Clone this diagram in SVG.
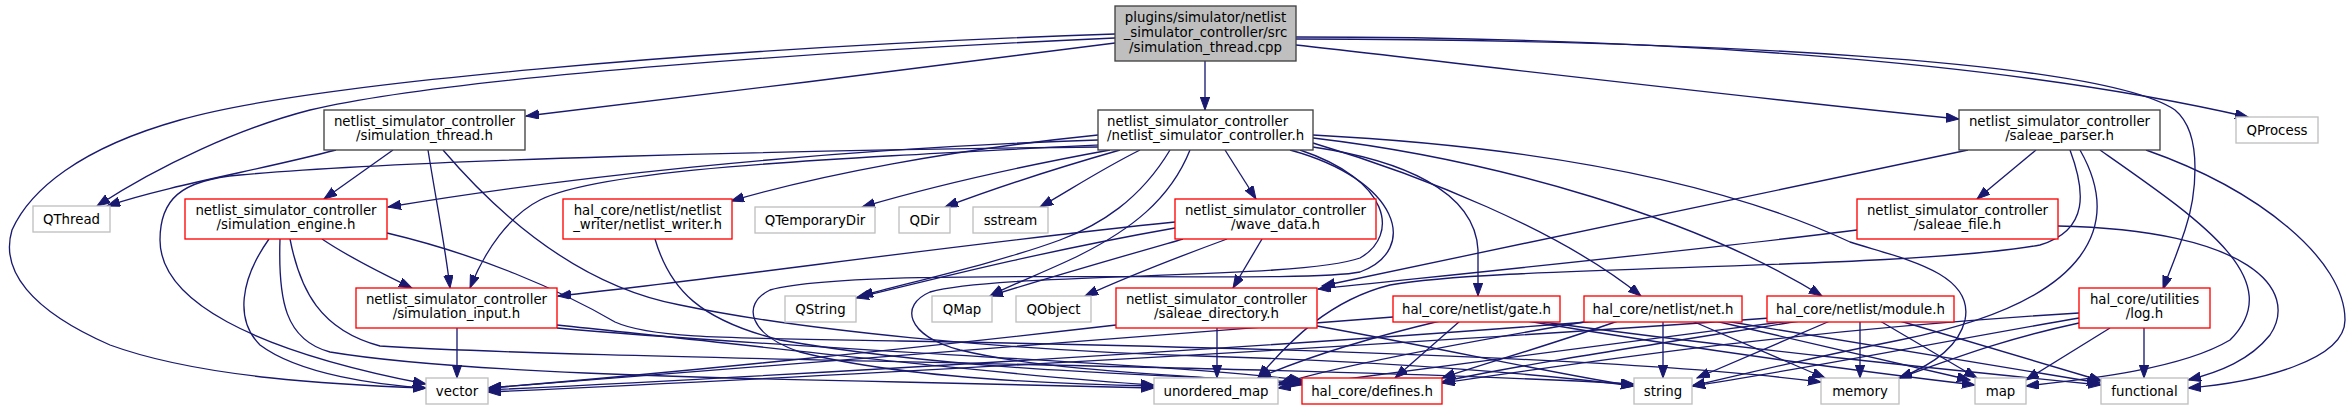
<svg xmlns="http://www.w3.org/2000/svg" width="2352" height="409" viewBox="0 0 2352 409">
<style>
text{font-family:"DejaVu Sans","Liberation Sans",sans-serif;font-size:13.33px;fill:#000;text-anchor:middle}
.n rect{fill:#fff;stroke-width:1.33}
.g rect{stroke:#bfbfbf}
.r rect{stroke:#ff0000}
.d rect{stroke:#404040}
.root rect{fill:#bfbfbf;stroke:#404040}
#edges path{fill:none;stroke:#191970;stroke-width:1.33;marker-end:url(#a)}
</style>
<defs>
<marker id="a" markerWidth="14" markerHeight="10" viewBox="0 0 14 10" refX="13" refY="4.7" orient="auto" markerUnits="userSpaceOnUse"><path d="M0,0 L13,4.7 L0,9.4 z" fill="#191970" stroke="#191970" stroke-width="1"/></marker>
</defs>
<rect width="2352" height="409" fill="#fff"/>
<g id="edges">
<path d="M1115,43 C950,65 700,95 526,116"/>
<path d="M1205,61 L1205,110"/>
<path d="M1296,45 C1500,68 1750,98 1959,119"/>
<path d="M1115,38 C850,50 460,75 310,110 C240,128 160,165 97,206"/>
<path d="M1115,34 C700,48 300,85 180,120 C80,148 30,190 12,230 C0,270 30,310 110,345 C200,378 340,385 426,388"/>
<path d="M1296,37 C1650,37 2000,60 2248,117"/>
<path d="M1296,39 C1700,40 2100,60 2175,110 C2205,135 2195,200 2185,230 C2175,260 2168,275 2163,289"/>
<path d="M336,150 C260,170 170,185 107,206"/>
<path d="M393,150 L324,199"/>
<path d="M428,150 C436,200 445,245 450,288"/>
<path d="M443,150 C520,240 600,290 680,305 C800,330 1000,350 1200,356 C1400,362 1550,375 1634,386"/>
<path d="M1098,140 C800,150 550,180 388,207"/>
<path d="M1098,145 C800,160 600,170 540,200 C510,215 485,250 470,288"/>
<path d="M1098,135 C950,150 820,175 731,201"/>
<path d="M1110,150 C1000,170 920,190 862,207"/>
<path d="M1120,150 C1050,170 990,190 945,207"/>
<path d="M1140,150 C1100,170 1070,190 1040,207"/>
<path d="M1225,150 L1256,199"/>
<path d="M1170,150 C1140,200 1100,225 1060,240 C1000,262 920,280 860,296"/>
<path d="M1190,150 C1170,200 1130,230 1080,255 C1050,270 1010,285 990,296"/>
<path d="M1290,150 C1400,180 1420,250 1360,272 C1300,285 860,265 770,290 C740,305 750,335 800,352 C900,378 1050,384 1154,386"/>
<path d="M1300,150 C1390,180 1400,235 1360,258 C1300,280 1000,272 930,292 C900,305 905,335 960,350 C1050,372 1200,376 1302,384"/>
<path d="M1313,147 C1400,160 1475,190 1478,250 L1478,296"/>
<path d="M1313,143 C1420,175 1560,230 1641,296"/>
<path d="M1313,138 C1500,160 1700,220 1822,296"/>
<path d="M1313,135 C1600,150 1760,200 1850,242 C1900,258 1975,272 1965,320 C1958,350 1925,368 1899,378"/>
<path d="M1098,147 C800,150 400,160 240,175 C180,180 160,200 160,240 C160,300 250,350 426,384"/>
<path d="M2036,150 L1977,199"/>
<path d="M1968,150 L1322,286"/>
<path d="M2070,150 C2085,190 2090,230 2040,245 C1900,270 1500,265 1390,285 C1330,300 1290,340 1258,378"/>
<path d="M2080,150 C2120,220 2100,300 1900,340 C1800,360 1740,375 1692,386"/>
<path d="M2100,150 C2200,220 2290,280 2230,340 C2180,370 2080,380 2026,386"/>
<path d="M2146,150 C2260,190 2345,260 2345,320 C2345,360 2260,382 2188,388"/>
<path d="M1857,230 C1700,250 1450,275 1318,289"/>
<path d="M2058,226 C2250,230 2300,290 2270,335 C2250,360 2220,372 2188,380"/>
<path d="M322,239 C350,258 385,275 412,288"/>
<path d="M269,239 C240,280 235,320 260,345 C300,375 380,385 426,388"/>
<path d="M280,239 C278,300 285,340 330,352 C450,372 700,378 900,382 C1000,384 1100,386 1154,388"/>
<path d="M290,239 C300,290 320,330 380,346 C600,360 1300,365 1634,384"/>
<path d="M387,233 C480,255 560,290 615,322 C650,338 720,338 900,341 C1300,348 1650,360 1821,382"/>
<path d="M457,328 L457,378"/>
<path d="M557,325 C750,345 1000,375 1154,385"/>
<path d="M557,328 C800,350 1150,362 1302,380"/>
<path d="M655,239 C670,290 700,320 780,340 C950,370 1150,375 1302,382"/>
<path d="M1175,222 C950,245 750,275 558,296"/>
<path d="M1175,228 C1050,250 950,275 856,298"/>
<path d="M1183,239 C1110,260 1040,280 990,296"/>
<path d="M1227,239 C1170,260 1120,280 1085,296"/>
<path d="M1262,239 L1233,288"/>
<path d="M1217,328 L1217,378"/>
<path d="M1116,325 C900,350 650,375 488,388"/>
<path d="M1317,326 C1450,350 1560,375 1634,386"/>
<path d="M1440,321 C1360,340 1300,360 1258,378"/>
<path d="M1460,321 L1395,378"/>
<path d="M1393,317 C1100,340 700,370 488,388"/>
<path d="M1527,321 C1700,350 1850,370 1975,385"/>
<path d="M1535,321 C1750,350 1950,370 2101,385"/>
<path d="M1663,321 L1663,378"/>
<path d="M1692,321 L1825,378"/>
<path d="M1715,321 L1970,380"/>
<path d="M1725,321 L2100,383"/>
<path d="M1618,321 C1550,345 1480,365 1442,378"/>
<path d="M1600,321 C1300,345 800,375 488,390"/>
<path d="M1590,321 C1450,345 1320,370 1278,385"/>
<path d="M1860,321 L1860,378"/>
<path d="M1830,321 L1697,378"/>
<path d="M1880,321 L1977,378"/>
<path d="M1900,321 L2102,381"/>
<path d="M1800,321 C1650,345 1500,368 1442,382"/>
<path d="M1770,318 C1400,345 800,378 488,392"/>
<path d="M1790,321 C1600,345 1400,372 1278,388"/>
<path d="M2144,328 L2144,378"/>
<path d="M2110,328 L2026,380"/>
<path d="M2079,323 C2000,340 1950,360 1899,378"/>
<path d="M2079,318 C1950,340 1800,370 1692,386"/>
<path d="M2079,313 C1800,330 1600,360 1442,383"/>
</g>
<g id="n-root" class="n root"><rect x="1115" y="6" width="181" height="55"/><text x="1205.5" y="22">plugins/simulator/netlist</text><text x="1205.5" y="37">_simulator_controller/src</text><text x="1205.5" y="51.5">/simulation_thread.cpp</text></g>
<g id="n-simulation_thread" class="n d"><rect x="324" y="110" width="201" height="40"/><text x="424.5" y="125.5">netlist_simulator_controller</text><text x="424.5" y="140">/simulation_thread.h</text></g>
<g id="n-netlist_simulator_controller" class="n d"><rect x="1098" y="110" width="215" height="40"/><text x="1107" y="125.5" style="text-anchor:start">netlist_simulator_controller</text><text x="1107" y="140" style="text-anchor:start">/netlist_simulator_controller.h</text></g>
<g id="n-saleae_parser" class="n d"><rect x="1959" y="110" width="201" height="40"/><text x="2059.5" y="125.5">netlist_simulator_controller</text><text x="2059.5" y="140">/saleae_parser.h</text></g>
<g id="n-QThread" class="n g"><rect x="33" y="206" width="77" height="26"/><text x="71.5" y="223.5">QThread</text></g>
<g id="n-QProcess" class="n g"><rect x="2236" y="117" width="82" height="26"/><text x="2277" y="134.5">QProcess</text></g>
<g id="n-simulation_engine" class="n r"><rect x="185" y="199" width="202" height="40"/><text x="286" y="214.5">netlist_simulator_controller</text><text x="286" y="229">/simulation_engine.h</text></g>
<g id="n-netlist_writer" class="n r"><rect x="563" y="199" width="169" height="40"/><text x="647.5" y="214.5">hal_core/netlist/netlist</text><text x="647.5" y="229">_writer/netlist_writer.h</text></g>
<g id="n-QTemporaryDir" class="n g"><rect x="755" y="207" width="120" height="26"/><text x="815" y="224.5">QTemporaryDir</text></g>
<g id="n-QDir" class="n g"><rect x="899" y="207" width="51" height="26"/><text x="924.5" y="224.5">QDir</text></g>
<g id="n-sstream" class="n g"><rect x="973" y="207" width="75" height="26"/><text x="1010.5" y="224.5">sstream</text></g>
<g id="n-wave_data" class="n r"><rect x="1175" y="199" width="201" height="40"/><text x="1275.5" y="214.5">netlist_simulator_controller</text><text x="1275.5" y="229">/wave_data.h</text></g>
<g id="n-saleae_file" class="n r"><rect x="1857" y="199" width="201" height="40"/><text x="1957.5" y="214.5">netlist_simulator_controller</text><text x="1957.5" y="229">/saleae_file.h</text></g>
<g id="n-simulation_input" class="n r"><rect x="356" y="288" width="201" height="40"/><text x="456.5" y="303.5">netlist_simulator_controller</text><text x="456.5" y="318">/simulation_input.h</text></g>
<g id="n-QString" class="n g"><rect x="785" y="296" width="71" height="26"/><text x="820.5" y="313.5">QString</text></g>
<g id="n-QMap" class="n g"><rect x="932" y="296" width="60" height="26"/><text x="962" y="313.5">QMap</text></g>
<g id="n-QObject" class="n g"><rect x="1016" y="296" width="75" height="26"/><text x="1053.5" y="313.5">QObject</text></g>
<g id="n-saleae_directory" class="n r"><rect x="1116" y="288" width="201" height="40"/><text x="1216.5" y="303.5">netlist_simulator_controller</text><text x="1216.5" y="318">/saleae_directory.h</text></g>
<g id="n-gate" class="n r"><rect x="1393" y="296" width="167" height="26"/><text x="1476.5" y="313.5">hal_core/netlist/gate.h</text></g>
<g id="n-net" class="n r"><rect x="1584" y="296" width="158" height="26"/><text x="1663" y="313.5">hal_core/netlist/net.h</text></g>
<g id="n-module" class="n r"><rect x="1767" y="296" width="187" height="26"/><text x="1860.5" y="313.5">hal_core/netlist/module.h</text></g>
<g id="n-log" class="n r"><rect x="2079" y="288" width="131" height="40"/><text x="2144.5" y="303.5">hal_core/utilities</text><text x="2144.5" y="318">/log.h</text></g>
<g id="n-vector" class="n g"><rect x="426" y="378" width="62" height="26"/><text x="457" y="395.5">vector</text></g>
<g id="n-unordered_map" class="n g"><rect x="1154" y="378" width="124" height="26"/><text x="1216" y="395.5">unordered_map</text></g>
<g id="n-defines" class="n r"><rect x="1302" y="378" width="140" height="26"/><text x="1372" y="395.5">hal_core/defines.h</text></g>
<g id="n-string" class="n g"><rect x="1634" y="378" width="58" height="26"/><text x="1663" y="395.5">string</text></g>
<g id="n-memory" class="n g"><rect x="1821" y="378" width="78" height="26"/><text x="1860" y="395.5">memory</text></g>
<g id="n-map" class="n g"><rect x="1975" y="378" width="51" height="26"/><text x="2000.5" y="395.5">map</text></g>
<g id="n-functional" class="n g"><rect x="2101" y="378" width="87" height="26"/><text x="2144.5" y="395.5">functional</text></g>
</svg>
